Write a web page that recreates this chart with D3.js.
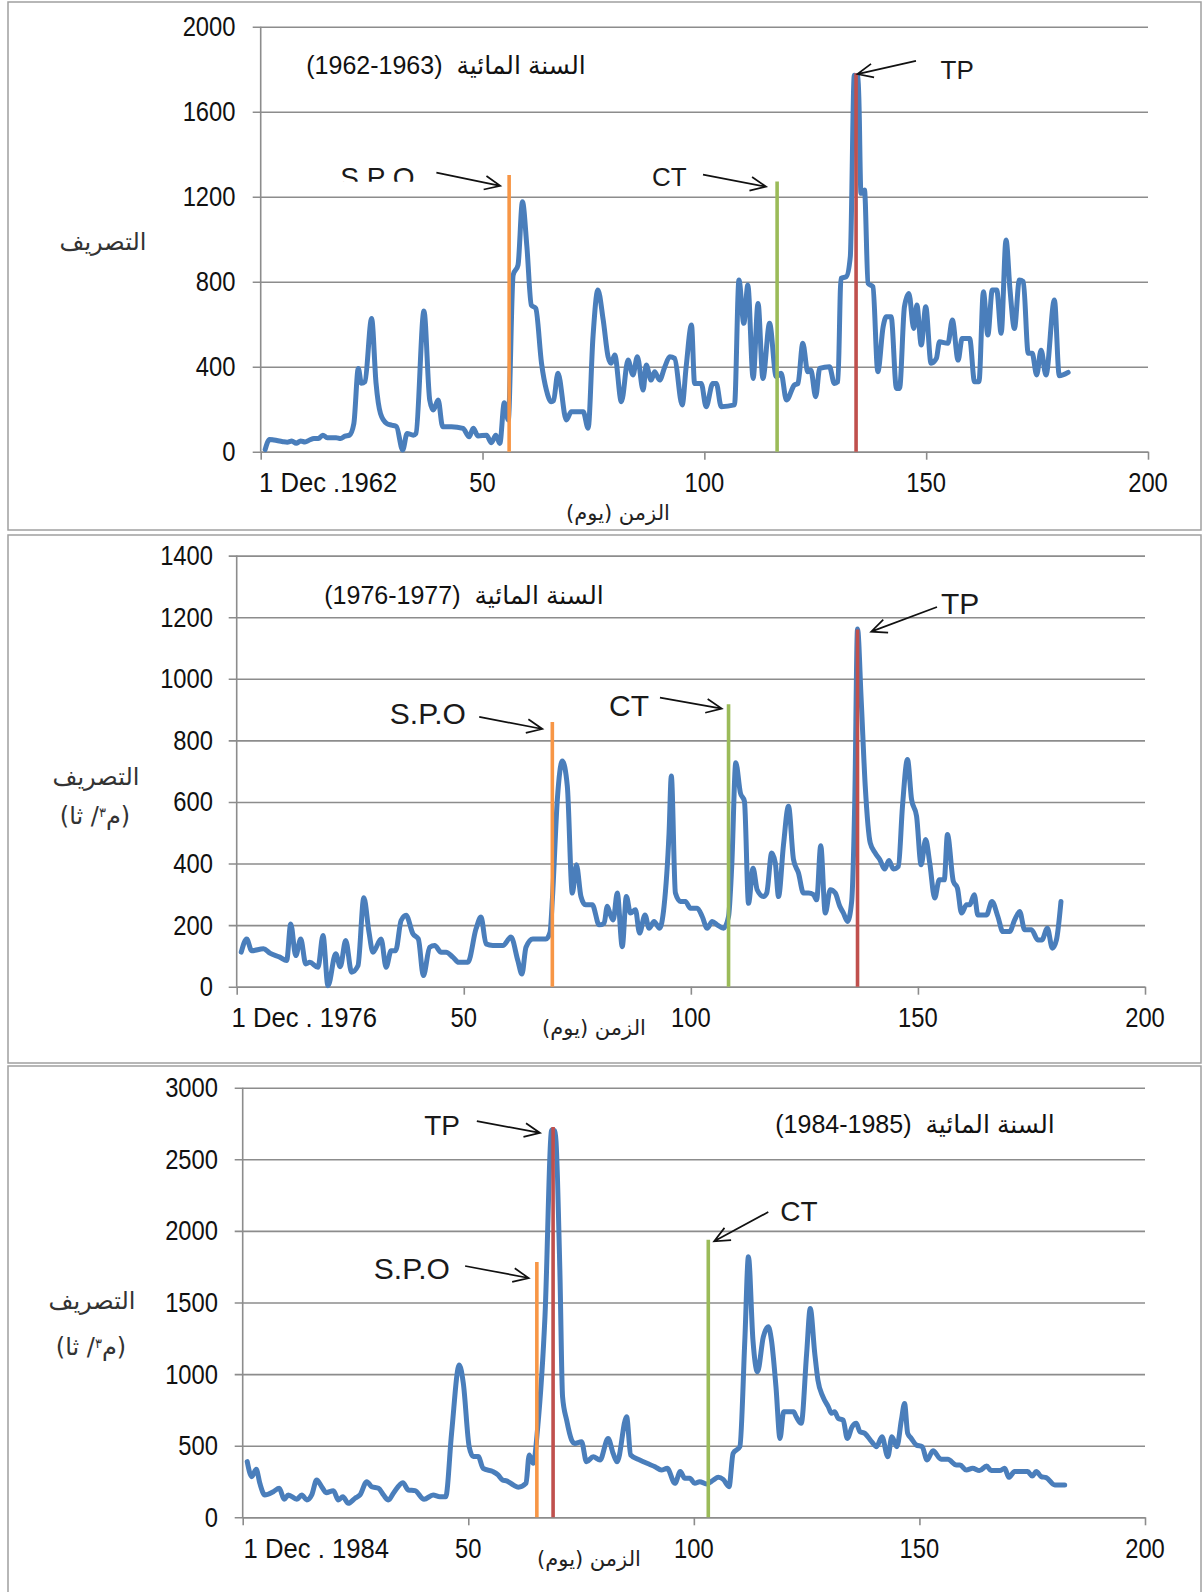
<!DOCTYPE html>
<html><head><meta charset="utf-8">
<script src="https://cdn.jsdelivr.net/npm/d3@7"></script>
<style>body{margin:0;background:#fff}</style>
</head><body>
<svg id="c" width="1203" height="1592"></svg>
<script>
// ---------- DATA ----------
const xTicks = [0, 50, 100, 150, 200];
const firstDayLabels = ["1 Dec .1962", "1 Dec . 1976", "1 Dec . 1984"];
const titleWords = "السنة المائية";
const titleYears = ["(1962-1963)", "(1976-1977)", "(1984-1985)"];
const yLabel = "التصريف";
const xLabel = "الزمن (يوم)";

const yTicks1962 = [0, 400, 800, 1200, 1600, 2000];
const yTicks1976 = [0, 200, 400, 600, 800, 1000, 1200, 1400];
const yTicks1984 = [0, 500, 1000, 1500, 2000, 2500, 3000];

const days1962 = [1,2,3,5,6,7,8,9,10,11,12,13,14,15,17,18,19,20,21,22,22.7,23.5,25,26,27,28.4,29.5,30.6,32,33,34.4,35,36.8,38.1,38.9,40,41,43,45.6,47,47.9,49,50.9,52,53,53.9,54.9,55.8,56.9,58,59,60,61,62,63.3,64.4,65.5,66,67,68.9,70,72.7,73.8,74.9,76,77.2,78.3,79,79.8,81.3,82.8,83.9,84.9,86.2,86.9,88,88.8,89.9,91.1,92.2,93.3,95,95.9,97.1,97.8,99.3,100.4,101.9,102.7,103.8,106.8,107.8,108.9,109.8,111,112.1,113.2,114.7,116.2,117.3,118.5,120.3,121.1,122.2,123.3,124,125.1,126,128.2,129.3,130.1,130.8,132,132.9,133.8,134.7,135.3,136.1,136.9,138,139.1,140.3,141,142.1,143.3,144,145.1,146.1,147.2,147.9,148.9,149.9,151.1,152.3,153,154.9,155.9,157.2,158.1,159.8,160.9,161.9,162.9,163.9,164.9,165.9,166.9,168,168.9,169.9,171,171.9,173,173.9,174.9,175.9,177,178.9,180,182];
const flow1962 = [10,58,55,47,45,50,40,50,46,55,62,62,78,66,66,62,73,78,133,392,322,330,627,322,180,133,125,118,8,86,78,86,662,243,196,243,118,118,110,70,110,74,78,42,78,39,230,149,831,878,1176,965,690,674,416,290,235,240,369,149,188,188,110,541,761,620,447,416,455,235,431,361,447,290,408,337,376,337,400,447,439,220,400,596,321,321,212,321,321,212,220,808,604,784,345,698,345,604,353,369,243,314,321,510,376,384,259,392,400,321,329,816,824,918,1772,1765,1216,1231,792,776,376,588,635,635,298,298,682,745,580,690,502,682,416,439,517,510,620,431,533,533,329,329,753,549,761,761,557,996,761,580,808,800,463,463,361,478,361,714,357,373];

const days1976 = [1,2.2,3.3,5.9,7.3,9.5,11,11.9,13,14.1,15.2,16.1,17.9,19,20.1,21.8,22.8,24,25.3,26.7,28,29.1,30,31.8,32.9,34,35,36.2,37.3,38.8,40,41.1,42.5,43.6,45,46.1,47.6,48.9,50.9,52.7,53.8,54.9,56.4,58.6,60.4,61.9,62.8,63.7,65.2,68.1,69,69.5,70.6,71.7,72.8,73.9,74.8,75.8,76.8,78.3,79.8,80.9,81.6,82.3,82.9,83.8,84.9,85.8,86.7,87.8,88.7,89.9,90.8,91.9,93.1,94.1,95.2,95.7,96.6,97.7,98.8,99.9,101.4,102.5,103.6,104.7,105.8,107.2,108.3,109,109.9,110.9,111.8,112.7,113.7,114.6,116,116.7,117.8,118.6,119.3,120.4,121.5,122.6,123.7,124.8,125.9,127,127.7,128.6,129.6,130.7,131.8,132.8,133.6,134.5,135.4,136.1,136.7,137.5,138.4,139.5,140.6,141.6,142.7,143.6,144.6,145.7,146.6,147.7,148.6,149.7,150.7,151.7,152.6,153.7,154.7,155.8,156.5,157.8,158.7,159.6,160.7,161.4,162.4,163.2,165.1,166.3,167.6,168.7,170.2,171.3,172.4,173.5,175,176.4,177.3,178.5,179.6,180.5,181.5];
const flow1976 = [112,155,117,123,109,96,85,204,101,155,74,79,63,166,3,107,65,150,47,68,289,180,112,155,63,117,117,215,232,172,155,36,128,134,112,112,96,79,79,188,226,139,134,134,161,85,41,128,155,155,177,282,608,733,651,304,396,293,266,266,201,206,261,233,217,304,130,293,239,250,174,233,190,212,190,261,499,684,304,277,277,255,255,228,190,212,201,190,228,391,727,630,602,271,385,315,293,304,434,402,293,461,586,413,369,304,304,299,282,458,239,315,304,261,239,212,275,608,1162,934,651,467,434,413,382,410,382,391,586,738,608,554,396,478,402,288,347,347,494,342,320,239,266,266,299,233,233,277,228,179,179,217,244,185,185,152,152,190,125,152,277];

const days1984 = [1,2,3,3.8,4.9,6.8,8.1,9.2,10.1,12,13.1,14.2,15.3,16.4,17.5,18.5,20.1,21.2,22.2,23.4,24.9,26,27.5,28.6,30.1,31.2,32.3,33.4,35.5,36.7,38.2,40.2,42.2,43.7,45,46.3,48,48.9,50.2,51.1,52.2,53.3,55.5,56.6,57.6,58.5,60,61.1,62.8,63.5,64.4,65.4,67,68.5,69.2,70.3,70.9,71.8,72.9,73.6,75.1,76.2,77.7,79.2,81,82.1,83,85.1,86,88,89.6,91.4,92.8,94.1,95.8,97,98,99.1,100.2,101.3,102.8,104.3,105.4,106.5,107.8,108.7,110.2,111.3,112.1,113.1,114.1,115.4,116.5,117.2,118.2,119.1,119.9,121.3,122.1,122.7,123.8,125,125.8,126.8,127.5,128.6,129.8,130.5,131.2,132,133.1,134,135.1,136,136.8,137.9,139.4,140.5,141.7,143,143.9,145,146,146.7,147.4,148.2,149.3,150.6,151.7,153,154.8,156.3,158.2,159,160.4,161.8,163.3,164.9,165.9,167.8,168.9,169.8,171.1,174,175,175.9,177,178.1,180,182.2];
const flow1984 = [389,284,335,237,156,179,203,126,156,126,156,121,156,261,214,172,186,121,144,98,133,156,249,214,203,156,121,168,242,191,186,126,156,144,144,587,1064,936,493,424,424,342,319,296,261,254,226,210,237,435,377,633,1401,2705,2700,1726,842,679,540,516,528,388,423,400,551,447,388,702,435,400,377,353,330,342,237,319,272,272,237,249,233,260,279,265,214,447,493,1237,1819,1237,1016,1260,1330,1237,912,551,737,737,737,702,656,1144,1458,1144,958,842,772,726,737,691,679,551,633,656,598,586,528,493,563,423,563,493,679,795,586,551,505,493,400,465,405,405,365,365,330,342,326,358,326,326,342,279,319,319,288,319,284,277,226,226];

// event markers: S.P.O, CT, TP (day, top value)
const markerNames = ["S.P.O", "CT", "TP"];
const markerDays1962 = [56, 116.4, 134.2];
const markerTops1962 = [1302, 1271, 1781];
const markerDays1976 = [69.5, 108.3, 136.7];
const markerTops1976 = [860, 917, 1160];
const markerDays1984 = [65.2, 103.2, 68.8];
const markerTops1984 = [1783, 1939, 2725];
const markerColors = ["#f79646", "#9bbb59", "#c0504d"];

// ---------- LAYOUT ----------
const svg = d3.select("#c");
const NUM = "'Liberation Sans','DejaVu Sans',sans-serif";
const LAT = "'Liberation Sans','DejaVu Sans',sans-serif";
const ARB = "'DejaVu Sans',sans-serif";

const panels = [
  { box:[8,2,1193,528], x0:260.7, x1:1148, y0:451.7, y1:26.7, yMax:2000, yTicks:yTicks1962,
    days:days1962, flow:flow1962, mDays:markerDays1962, mTops:markerTops1962,
    first:firstDayLabels[0], years:titleYears[0], titleXY:[446,74], yTickX:235.5, firstX:259,
    yLab:[103,250], unit:null, xLab:[618,520],
    ann:[ {t:"S P O", at:[26.3,1247], fs:28, clip:181.7, arr:[39.6,1313,54.0,1251]},
          {t:"CT", at:[92.1,1251], fs:26, arr:[99.7,1304,113.9,1247]},
          {t:"TP", at:[157,1754], fs:26, arr:[147.7,1839,134.5,1777]} ] },
  { box:[8,535,1193,528], x0:236.7, x1:1145, y0:986.7, y1:555.6, yMax:1400, yTicks:yTicks1976,
    days:days1976, flow:flow1976, mDays:markerDays1976, mTops:markerTops1976,
    first:firstDayLabels[1], years:titleYears[1], titleXY:[464,604], yTickX:213, firstX:231.5,
    yLab:[96,785], unit:[95,824], xLab:[594,1035],
    ann:[ {t:"S.P.O", at:[42.1,853], fs:30, arr:[53.4,876,67.3,837]},
          {t:"CT", at:[86.4,880], fs:30, arr:[93.2,939,106.8,903]},
          {t:"TP", at:[159.3,1210], fs:30, arr:[154.2,1233,139.7,1153]} ] },
  { box:[8,1066,1193,530], x0:242.7, x1:1145, y0:1517.3, y1:1087.7, yMax:3000, yTicks:yTicks1984,
    days:days1984, flow:flow1984, mDays:markerDays1984, mTops:markerTops1984,
    first:firstDayLabels[2], years:titleYears[2], titleXY:[915,1133], yTickX:218, firstX:243.6,
    yLab:[92,1309], unit:[91,1355], xLab:[589,1566],
    ann:[ {t:"S.P.O", at:[37.5,1664], fs:30, arr:[49.3,1755,63.4,1671]},
          {t:"CT", at:[123.3,2069], fs:28, arr:[116.5,2132,104.5,1927]},
          {t:"TP", at:[44.2,2670], fs:28, arr:[51.9,2767,65.9,2684]} ] }
];

function arrow(g, x1, y1, x2, y2) {
  const ang = Math.atan2(y2 - y1, x2 - x1), L = 17, a = 0.42;
  const d = `M${x1},${y1}L${x2},${y2}M${x2 - L*Math.cos(ang - a)},${y2 - L*Math.sin(ang - a)}L${x2},${y2}L${x2 - L*Math.cos(ang + a)},${y2 - L*Math.sin(ang + a)}`;
  g.append("path").attr("d", d).attr("fill", "none").attr("stroke", "#111").attr("stroke-width", 1.7);
}
// condensed number text (scaled horizontally around its anchor)
function numText(g, x, y, anchor, str, sx) {
  return g.append("g").attr("transform", `translate(${x},${y}) scale(${sx},1)`)
    .append("text").attr("x", 0).attr("y", 0).attr("dy", "0.35em").attr("text-anchor", anchor)
    .attr("font-family", NUM).attr("font-size", 27).attr("fill", "#111").text(str);
}

panels.forEach((p, i) => {
  const g = svg.append("g");
  g.append("rect").attr("x", p.box[0]).attr("y", p.box[1]).attr("width", p.box[2]).attr("height", p.box[3])
    .attr("fill", "#fff").attr("stroke", "#a0a0a0").attr("stroke-width", 1.5);

  const x = d3.scaleLinear().domain([0, 200]).range([p.x0, p.x1]);
  const y = d3.scaleLinear().domain([0, p.yMax]).range([p.y0, p.y1]);

  // gridlines + y ticks
  const yAx = g.append("g").attr("transform", `translate(${p.x0},0)`)
    .call(d3.axisLeft(y).tickValues(p.yTicks).tickSize(-(p.x1 - p.x0)).tickSizeOuter(0).tickFormat(""));
  yAx.select(".domain").remove();
  yAx.selectAll(".tick line").attr("stroke", "#8c8c8c").attr("stroke-width", 1.6).attr("x1", -8);
  p.yTicks.forEach(v => numText(g, p.yTickX, y(v), "end", v, 0.88));
  // y axis line
  g.append("line").attr("x1", p.x0).attr("x2", p.x0).attr("y1", p.y0).attr("y2", p.y1)
    .attr("stroke", "#8c8c8c").attr("stroke-width", 1.6);
  // x axis ticks
  const xAx = g.append("g").attr("transform", `translate(0,${p.y0})`)
    .call(d3.axisBottom(x).tickValues(xTicks).tickSize(8).tickSizeOuter(0).tickFormat(""));
  xAx.select(".domain").attr("stroke", "#8c8c8c").attr("stroke-width", 1.6);
  xAx.selectAll(".tick line").attr("stroke", "#8c8c8c").attr("stroke-width", 1.6);
  xTicks.forEach(v => {
    if (v === 0) numText(g, p.firstX, p.y0 + 31, "start", p.first, 0.95);
    else numText(g, x(v), p.y0 + 31, "middle", v, 0.88);
  });

  // series
  const line = d3.line().x((d, k) => x(p.days[k])).y(d => y(d)).curve(d3.curveMonotoneX);
  g.append("path").datum(p.flow).attr("d", line).attr("fill", "none")
    .attr("stroke", "#4a7ebb").attr("stroke-width", 5).attr("stroke-linejoin", "round").attr("stroke-linecap", "round");

  // marker lines
  p.mDays.forEach((d, k) => {
    g.append("line").attr("x1", x(d)).attr("x2", x(d)).attr("y1", p.y0).attr("y2", y(p.mTops[k]))
      .attr("stroke", markerColors[k]).attr("stroke-width", 3.6);
  });

  // annotations
  p.ann.forEach((a, k) => {
    const t = g.append("text").attr("x", x(a.at[0])).attr("y", y(a.at[1])).attr("text-anchor", "middle")
      .attr("font-family", LAT).attr("font-size", a.fs).attr("fill", "#1a1a1a").text(a.t);
    if (a.clip) {
      const id = "clip" + i + k;
      g.append("clipPath").attr("id", id).append("rect")
        .attr("x", x(a.at[0]) - 80).attr("y", y(a.at[1]) - 60).attr("width", 160).attr("height", a.clip - (y(a.at[1]) - 60));
      t.attr("clip-path", `url(#${id})`);
    }
    arrow(g, x(a.arr[0]), y(a.arr[1]), x(a.arr[2]), y(a.arr[3]));
  });

  // title: Arabic words on the right, years (LTR isolate) on the left
  g.append("text").attr("x", p.titleXY[0]).attr("y", p.titleXY[1]).attr("text-anchor", "middle")
    .attr("direction", "rtl").attr("font-family", NUM).attr("font-size", 25).attr("fill", "#111")
    .text(titleWords + "\u00A0\u00A0\u2066" + p.years + "\u2069");
  // y label
  g.append("text").attr("x", p.yLab[0]).attr("y", p.yLab[1]).attr("text-anchor", "middle")
    .attr("direction", "rtl").attr("font-family", ARB).attr("font-size", 24).attr("fill", "#333").text(yLabel);
  if (p.unit) {
    const u = g.append("text").attr("x", p.unit[0]).attr("y", p.unit[1]).attr("text-anchor", "middle")
      .attr("direction", "rtl").attr("font-family", ARB).attr("font-size", 24).attr("fill", "#333");
    u.append("tspan").text("(م");
    u.append("tspan").attr("baseline-shift", "super").attr("font-size", 13).text("٣");
    u.append("tspan").text("/ ثا)");
  }
  // x label
  g.append("text").attr("x", p.xLab[0]).attr("y", p.xLab[1]).attr("text-anchor", "middle")
    .attr("direction", "rtl").attr("font-family", ARB).attr("font-size", 21).attr("fill", "#222").text(xLabel);
});
</script>
</body></html>
